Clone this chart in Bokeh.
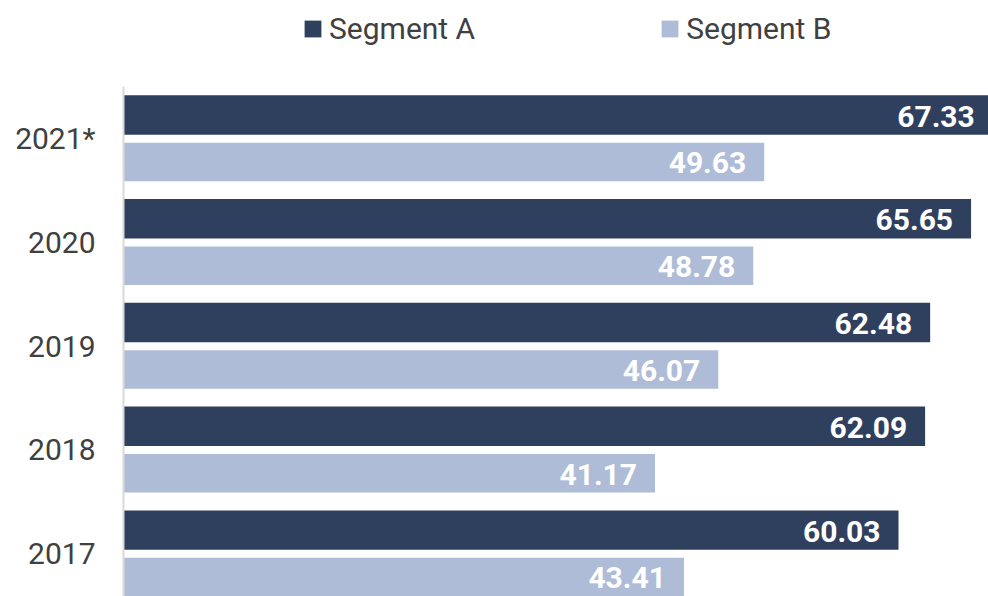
from bokeh.plotting import figure
from bokeh.layouts import column
from bokeh.models import ColumnDataSource, Range1d, FixedTicker, Legend, LegendItem
from bokeh.core.properties import value
from bokeh.embed import file_html
from bokeh.resources import INLINE

categories = ["2021*", "2020", "2019", "2018", "2017"]
segment_a = [67.33, 65.65, 62.48, 62.09, 60.03]
segment_b = [49.63, 48.78, 46.07, 41.17, 43.41]
series_names = ["Segment A", "Segment B"]
colors = ["#2f405e", "#aebcd8"]

n = len(categories)
pos = [n - 1 - i for i in range(n)]
off = 0.226

src_a = ColumnDataSource(dict(y=[p_ + off for p_ in pos], v=segment_a,
                              lab=[f"{v:.2f}" for v in segment_a]))
src_b = ColumnDataSource(dict(y=[p_ - off for p_ in pos], v=segment_b,
                              lab=[f"{v:.2f}" for v in segment_b]))

p = figure(width=988, height=510, output_backend="svg", toolbar_location=None,
           x_range=Range1d(0, 67.0), y_range=Range1d(-0.414, 4.501),
           x_axis_location=None, min_border_left=123, min_border_right=0,
           min_border_top=0, min_border_bottom=0)
p.outline_line_color = None
p.grid.visible = False

ra = p.hbar(y="y", right="v", left=0, height=0.38, source=src_a,
            fill_color=colors[0], line_color=None)
rb = p.hbar(y="y", right="v", left=0, height=0.37, source=src_b,
            fill_color=colors[1], line_color=None)

for s in (src_a, src_b):
    p.text(x="v", y="y", text="lab", source=s, text_align="right",
           text_baseline="middle", x_offset=-18, y_offset=1,
           text_color="white", text_font=value("Roboto"),
           text_font_style="bold", text_font_size="30px")

ax = p.yaxis[0]
ax.ticker = FixedTicker(ticks=pos)
ax.major_label_overrides = {p_: c for p_, c in zip(pos, categories)}
ax.major_tick_line_color = None
ax.minor_tick_line_color = None
ax.major_tick_out = 0
ax.major_tick_in = 0
ax.major_label_standoff = 28
ax.axis_line_color = "#d9d9d9"
ax.axis_line_width = 2
ax.major_label_text_font = "Roboto"
ax.major_label_text_font_size = "30px"
ax.major_label_text_color = "#404040"

# legend strip on top (its frame is aligned with the main frame by the column)
top = figure(width=988, height=86, output_backend="svg", toolbar_location=None,
             x_range=Range1d(0, 1), y_range=Range1d(0, 1),
             x_axis_location=None, y_axis_location=None,
             min_border_left=123, min_border_right=0, min_border_top=0, min_border_bottom=0)
top.outline_line_color = None
top.grid.visible = False
la = top.hbar(y=[-3], right=[-2], left=-3, height=0.5, fill_color=colors[0], line_color=None)
lb = top.hbar(y=[-3], right=[-2], left=-3, height=0.5, fill_color=colors[1], line_color=None)

legend = Legend(items=[LegendItem(label=series_names[0], renderers=[la]),
                       LegendItem(label=series_names[1], renderers=[lb])],
                orientation="horizontal", location=(179, 40),
                glyph_width=21, glyph_height=21, label_standoff=6,
                spacing=184, padding=0, margin=0,
                border_line_color=None, background_fill_alpha=0,
                label_text_font="Roboto", label_text_font_size="30px",
                label_text_color="#404040")
top.add_layout(legend, "center")

layout = column(top, p, spacing=0)
open("out.html", "w").write(file_html(layout, INLINE))
